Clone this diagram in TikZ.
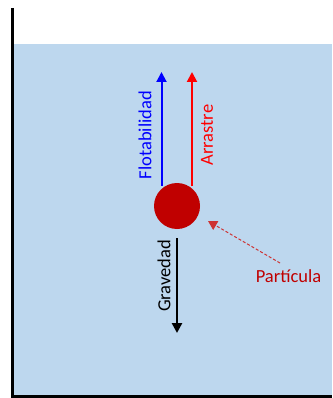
\documentclass[tikz,border=0pt]{standalone}
\usepackage{fontspec}
\setmainfont{Carlito}
\usetikzlibrary{arrows.meta}
\definecolor{water}{HTML}{BDD7EE}
\definecolor{pred}{HTML}{C00000}
\definecolor{fblue}{HTML}{0000FF}
\definecolor{fred}{HTML}{FF0000}
\tikzset{
  force/.style={line width=2pt, -{Triangle[width=10pt,length=10pt]}},
  flabel/.style={rotate=90, font=\fontsize{18.5}{20}\selectfont, inner sep=0pt},
  wall/.style={line width=3pt, black}
}
\begin{document}
\begin{tikzpicture}[x=1pt,y=-1pt]
\useasboundingbox (0,0) rectangle (332,398);
\fill[water] (14,44) rectangle (332,395);
\draw[wall] (12.5,8) -- (12.5,396.5) -- (332,396.5);
\node[circle, fill=pred, minimum size=46pt, inner sep=0pt] (p) at (177,206) {};
\coordinate (bb) at (161.5,186);
\coordinate (bt) at (161.5,72);
\coordinate (rb) at (192,186);
\coordinate (rt) at (192,72);
\coordinate (gt) at (177,238);
\coordinate (gb) at (177,333);
\draw[force, fblue] (bb) -- (bt);
\draw[force, fred] (rb) -- (rt);
\draw[force, black, line width=2.5pt] (gt) -- (gb);
\node[flabel, text=fblue] (fl) at (145,135) {Flotabilidad};
\node[flabel, text=fred] (ar) at (207,135) {Arrastre};
\node[flabel, text=black] (gr) at (164,276) {Gravedad};
\node[font=\fontsize{18.5}{20}\selectfont, text=pred, inner sep=0pt] (pl) at (288.5,276) {Partícula};
\coordinate (ds) at (280,263);
\coordinate (de) at (208,221);
\draw[pred!80, line width=1pt, dash pattern=on 3pt off 2pt, -{Triangle[width=10pt,length=9pt]}] (ds) -- (de);
\end{tikzpicture}
\end{document}
